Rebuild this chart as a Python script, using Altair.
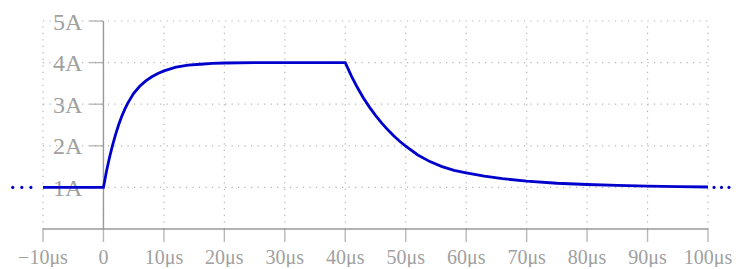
import altair as alt
import pandas as pd

# ---- data ----
x_ticks = [-10, 0, 10, 20, 30, 40, 50, 60, 70, 80, 90, 100]
x_labels = ["−10μs", "0", "10μs", "20μs", "30μs", "40μs", "50μs",
            "60μs", "70μs", "80μs", "90μs", "100μs"]
y_ticks = [1, 2, 3, 4, 5]
y_labels = ["1A", "2A", "3A", "4A", "5A"]

curve_t = [-10, 0, 0.5, 1, 1.5, 2, 2.5, 3, 3.5, 4, 5, 6, 7, 8, 9, 10, 12, 14,
           16, 18, 20, 25, 30, 40, 41, 42, 43, 44, 45, 46, 47, 48, 49, 50, 52,
           54, 56, 58, 60, 63, 66, 70, 75, 80, 85, 90, 95, 100]
curve_i = [1, 1, 1.39, 1.72, 2.01, 2.27, 2.50, 2.70, 2.87, 3.02, 3.26, 3.43,
           3.56, 3.66, 3.74, 3.80, 3.89, 3.94, 3.96, 3.98, 3.99, 3.998, 4.0,
           4.0, 3.68, 3.40, 3.15, 2.93, 2.73, 2.55, 2.39, 2.24, 2.11, 1.99,
           1.78, 1.62, 1.50, 1.41, 1.35, 1.27, 1.21, 1.15, 1.10, 1.07, 1.05,
           1.03, 1.02, 1.01]

dots_t = [-15.0, -13.5, -12.0, 101.0, 102.23, 103.47]
dots_i = [1, 1, 1, 1, 1, 1]

# ---- styling ----
FONT = "Liberation Serif"
GRAY_TXT = "#a0a0a0"
GRAY_AX = "#9a9a9a"
GRAY_GRID = "#b4b4b4"
BLUE = "#0000cc"

xs = alt.Scale(domain=[-10, 100], nice=False, zero=False)
ys = alt.Scale(domain=[0, 5], nice=False, zero=False)

vgrid = pd.DataFrame({"t": x_ticks, "y0": [0] * len(x_ticks), "y1": [5] * len(x_ticks)})
hgrid = pd.DataFrame({"i": y_ticks, "x0": [-10] * len(y_ticks), "x1": [100] * len(y_ticks)})
xlab = pd.DataFrame({"t": x_ticks, "lab": x_labels, "y": [0] * len(x_ticks)})
ylab = pd.DataFrame({"i": y_ticks, "lab": y_labels, "x": [0] * len(y_ticks)})
curve = pd.DataFrame({"t": curve_t, "i": curve_i})
dots = pd.DataFrame({"t": dots_t, "i": dots_i})
xaxis = pd.DataFrame({"x0": [-10], "x1": [100], "y": [0]})
yaxis = pd.DataFrame({"x": [0], "y0": [0], "y1": [5]})

grid_v = alt.Chart(vgrid).mark_rule(color=GRAY_GRID, strokeWidth=1.2, strokeDash=[1.2, 5.3]).encode(
    x=alt.X("t:Q", scale=xs, axis=None), y=alt.Y("y0:Q", scale=ys, axis=None), y2="y1:Q")
grid_h = alt.Chart(hgrid).mark_rule(color=GRAY_GRID, strokeWidth=1.2, strokeDash=[1.2, 5.3]).encode(
    y=alt.Y("i:Q", scale=ys, axis=None), x=alt.X("x0:Q", scale=xs, axis=None), x2="x1:Q")

x_line = alt.Chart(xaxis).mark_rule(color=GRAY_AX, strokeWidth=1.4).encode(
    x=alt.X("x0:Q", scale=xs, axis=None), x2="x1:Q", y=alt.Y("y:Q", scale=ys, axis=None))
y_line = alt.Chart(yaxis).mark_rule(color=GRAY_AX, strokeWidth=1.4).encode(
    x=alt.X("x:Q", scale=xs, axis=None), y=alt.Y("y0:Q", scale=ys, axis=None), y2="y1:Q")

x_tk = alt.Chart(xlab).mark_tick(color=GRAY_AX, orient="vertical", size=13, thickness=1.4,
                                 yOffset=6.5).encode(
    x=alt.X("t:Q", scale=xs, axis=None), y=alt.Y("y:Q", scale=ys, axis=None))
y_tk = alt.Chart(ylab).mark_tick(color=GRAY_AX, orient="horizontal", size=14, thickness=1.4,
                                 xOffset=-7).encode(
    x=alt.X("x:Q", scale=xs, axis=None), y=alt.Y("i:Q", scale=ys, axis=None))

x_txt = alt.Chart(xlab).mark_text(font=FONT, fontSize=20, color=GRAY_TXT, align="center",
                                  baseline="alphabetic", dy=35).encode(
    x=alt.X("t:Q", scale=xs, axis=None), y=alt.Y("y:Q", scale=ys, axis=None), text="lab:N")
y_txt = alt.Chart(ylab).mark_text(font=FONT, fontSize=24, color=GRAY_TXT, align="right",
                                  baseline="alphabetic", dx=-21, dy=8.5).encode(
    x=alt.X("x:Q", scale=xs, axis=None), y=alt.Y("i:Q", scale=ys, axis=None), text="lab:N")

line = alt.Chart(curve).mark_line(color=BLUE, strokeWidth=2.8).encode(
    x=alt.X("t:Q", scale=xs, axis=None), y=alt.Y("i:Q", scale=ys, axis=None))
pts = alt.Chart(dots).mark_circle(color=BLUE, size=10, opacity=1).encode(
    x=alt.X("t:Q", scale=xs, axis=None), y=alt.Y("i:Q", scale=ys, axis=None))

chart = alt.layer(grid_v, grid_h, x_line, y_line, x_tk, y_tk, x_txt, y_txt, line, pts).properties(
    width=665, height=208,
    autosize=alt.AutoSizeParams(type="none"),
    padding={"left": 35, "top": 13, "right": 24, "bottom": 38},
).configure_view(stroke=None)

chart.save("out.html", embed_options={"renderer": "svg", "actions": False})
